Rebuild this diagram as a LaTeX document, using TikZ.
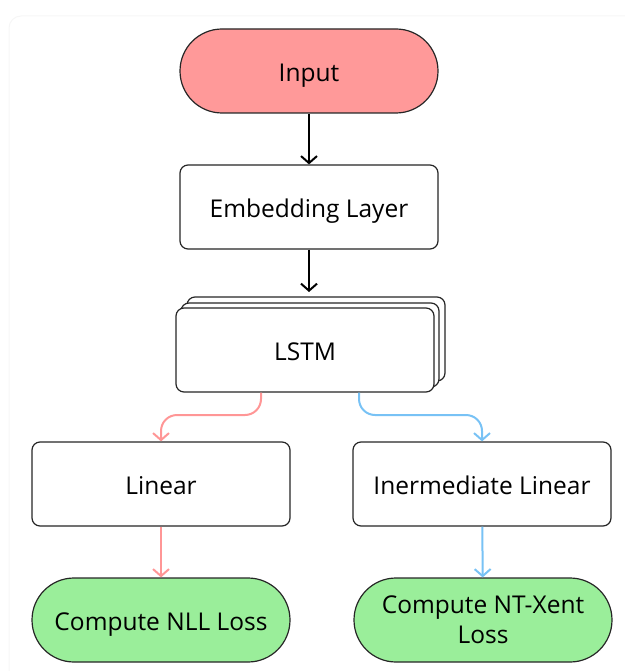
\documentclass[tikz,border=0pt]{standalone}
\usepackage{fontspec}
\setmainfont{Open Sans}
\usetikzlibrary{arrows.meta}
\definecolor{inputred}{RGB}{255,153,153}
\definecolor{lossgreen}{RGB}{154,238,154}
\definecolor{linkred}{RGB}{255,150,150}
\definecolor{linkblue}{RGB}{120,194,245}
\definecolor{cardedge}{RGB}{246,246,246}
\tikzset{
  x=1pt, y=-1pt,
  box/.style={draw=black!85, line width=1.2pt, rounded corners=8pt, fill=white,
    minimum width=258pt, minimum height=84pt, inner sep=0pt, align=center,
    font=\fontsize{24.5}{30}\selectfont},
  oneline/.style={text height=25pt, text depth=4pt},
  pill/.style={box, rounded corners=42pt},
  flow/.style={line width=2pt, -{Straight Barb[length=7pt,width=16pt,line width=2pt]}},
}
\begin{document}
\begin{tikzpicture}
\useasboundingbox (0,0) rectangle (624,671);
% faint card edge
\draw[cardedge, line width=1pt, rounded corners=12pt] (9,680) -- (9,16) -- (640,16);

\node[pill, oneline, fill=inputred] (input) at (309,71) {Input};
\node[box, oneline] (embed) at (309,207) {Embedding Layer};

% stacked LSTM boxes
\node[box] (lstm3) at (316,339) {};
\node[box] (lstm2) at (310,345) {};
\node[box, oneline] (lstm) at (305,350) {LSTM};

\node[box, oneline] (lin) at (161,484) {Linear};
\node[box, oneline] (ilin) at (482,484) {Inermediate Linear};
\node[pill, oneline, fill=lossgreen] (nll) at (161,620) {Compute NLL Loss};
\node[pill, fill=lossgreen] (ntx) at (483,620) {Compute NT-Xent\\Loss};

\coordinate (lstmtop) at (309,292);
\draw[flow, black] (input) -- (embed);
\draw[flow, black] (embed) -- (lstmtop);

\draw[flow, linkred, rounded corners=16pt]
  (lstm.south -| 261,0) -- (261,415) -- (161,415) -- (lin.north);
\draw[flow, linkblue, rounded corners=16pt]
  (lstm.south -| 359,0) -- (359,415) -- (482,415) -- (ilin.north);
\draw[flow, linkred] (lin) -- (nll);
\draw[flow, linkblue] (ilin) -- (ntx);
\end{tikzpicture}
\end{document}
